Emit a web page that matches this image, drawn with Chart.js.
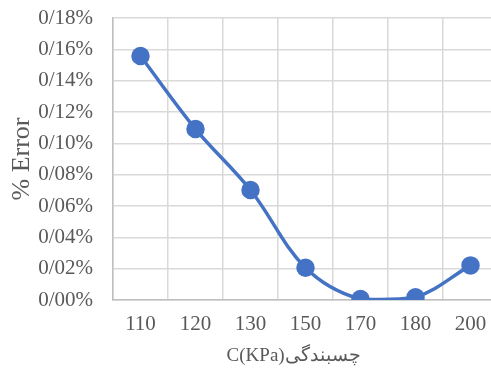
<!DOCTYPE html>
<html lang="fa">
<head>
<meta charset="UTF-8">
<title>Error chart</title>
<script src="https://cdn.jsdelivr.net/npm/chart.js@4.4.1/dist/chart.umd.min.js"></script>
<style>
  html, body { margin: 0; padding: 0; background: #fff; overflow: hidden; }
  canvas { display: block; }
</style>
</head>
<body>
<canvas id="chart" width="500" height="369"></canvas>
<script>
// cohesion values (x categories) and error in percent
var categories = ['110', '120', '130', '150', '170', '180', '200'];
var errorValues = [0.1557, 0.1091, 0.0702, 0.0206, 0.0006, 0.0017, 0.0221];
var yMin = 0, yMax = 0.18, yStep = 0.02;

var blue = '#4472C4';
var gridColor = '#d9d9d9';
var textColor = '#595959';
var serif = "'Liberation Serif', 'Times New Roman', serif";

function pctLabel(v) {
  return v.toFixed(2).replace('.', '/') + '%';
}

new Chart(document.getElementById('chart'), {
  type: 'line',
  data: {
    labels: categories,
    datasets: [{
      data: errorValues,
      borderColor: blue,
      backgroundColor: blue,
      borderWidth: 3.5,
      tension: 0.35,
      pointRadius: 7.5,
      pointHoverRadius: 7.5,
      pointBackgroundColor: blue,
      pointBorderColor: blue,
      fill: false
    }]
  },
  options: {
    responsive: false,
    animation: false,
    events: [],
    layout: { autoPadding: false, padding: { left: 7, top: 0, right: 2, bottom: 2 } },
    plugins: {
      legend: { display: false },
      tooltip: { enabled: false }
    },
    scales: {
      x: {
        offset: true,
        grid: { offset: true, color: gridColor, lineWidth: 1.5, drawTicks: false },
        border: { color: '#bfbfbf', width: 1.5 },
        ticks: { color: textColor, padding: 12, font: { family: serif, size: 21 } },
        title: {
          display: true,
          // trailing spaces nudge the centred title left like the original
          text: 'C(KPa)چسبندگی\u00a0\u00a0\u00a0\u00a0\u00a0',
          color: textColor,
          padding: { top: 0, bottom: 0 },
          font: { family: serif, size: 19 }
        },
        afterFit: function (s) {
          s.height = 67;
          s.paddingLeft = 0;
          s.paddingRight = 0;
        }
      },
      y: {
        min: yMin,
        max: yMax,
        grid: { color: gridColor, lineWidth: 1.5, drawTicks: false },
        border: { color: '#bfbfbf', width: 1.5 },
        ticks: {
          stepSize: yStep,
          color: textColor,
          padding: 20,
          font: { family: serif, size: 21 },
          callback: function (v) { return pctLabel(v); }
        },
        title: {
          display: true,
          text: '% Error',
          color: textColor,
          padding: { top: 0, bottom: 0 },
          font: { family: serif, size: 26 }
        },
        afterFit: function (s) {
          s.width = 106;
          s.paddingTop = 18;
          s.paddingBottom = 0;
        }
      }
    }
  }
});
</script>
</body>
</html>
